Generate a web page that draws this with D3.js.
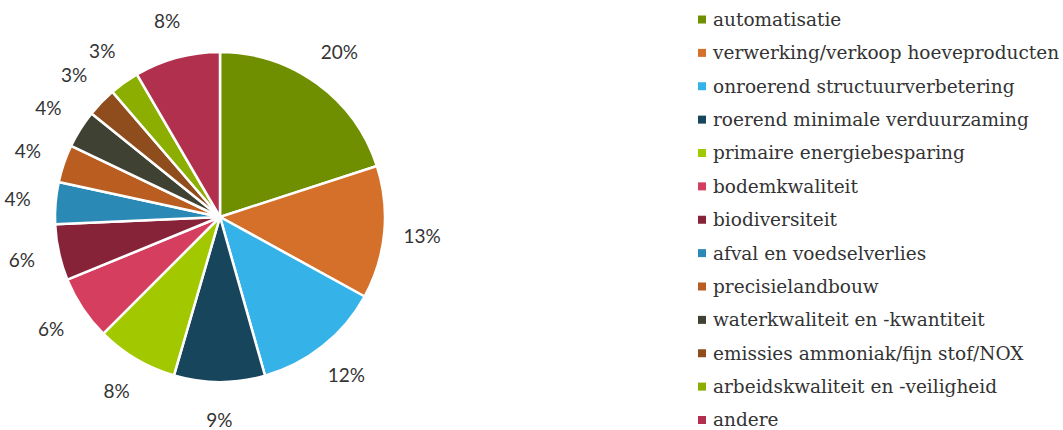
<!DOCTYPE html>
<html><head><meta charset="utf-8">
<script src="https://cdn.jsdelivr.net/npm/d3@7"></script>
<style>body{margin:0;background:#fff}svg{display:block}</style>
</head><body>
<svg id="c" width="1063" height="430"></svg>
<script>
const categories = ["automatisatie","verwerking/verkoop hoeveproducten","onroerend structuurverbetering","roerend minimale verduurzaming","primaire energiebesparing","bodemkwaliteit","biodiversiteit","afval en voedselverlies","precisielandbouw","waterkwaliteit en -kwantiteit","emissies ammoniak/fijn stof/NOX","arbeidskwaliteit en -veiligheid","andere"];
const values = [20, 13, 12.6, 8.9, 8, 6.3, 5.5, 4.1, 3.7, 3.7, 2.9, 2.9, 8.4];
const pctLabels = ["20%","13%","12%","9%","8%","6%","6%","4%","4%","4%","3%","3%","8%"];
const colors = ["#708f00","#d4702a","#35b2e8","#17455c","#a2c800","#d53e5e","#862338","#2a8ab5","#b95e20","#3f4132","#8f4c1c","#8bae00","#b0304d"];

const svg = d3.select("#c");
const cx = 220, cy = 217, r = 165;
const color = d3.scaleOrdinal().domain(categories).range(colors);
const pie = d3.pie().sort(null).value(d => d.v);
const data = pie(categories.map((c,i) => ({c, v: values[i], l: pctLabels[i]})));
const arc = d3.arc().innerRadius(0).outerRadius(r);
const labelArc = d3.arc().innerRadius(203).outerRadius(203);
const g = svg.append("g").attr("transform", `translate(${cx},${cy})`);
g.selectAll("path").data(data).join("path")
  .attr("d", arc).attr("fill", d => color(d.data.c))
  .attr("stroke", "#fff").attr("stroke-width", 2.5).attr("stroke-linejoin","round");
g.selectAll("text").data(data).join("text")
  .attr("transform", d => `translate(${labelArc.centroid(d)})`)
  .attr("text-anchor","middle").attr("dy","0.35em")
  .style("font-family","Lato, 'Open Sans', sans-serif").style("font-size","19px").attr("fill","#333")
  .text(d => d.data.l);

const leg = svg.append("g").attr("transform","translate(698,0)");
const ly = d3.scalePoint().domain(categories).range([19.5, 420]);
const items = leg.selectAll("g").data(categories).join("g")
  .attr("transform", d => `translate(0,${ly(d)})`);
items.append("rect").attr("x",0).attr("y",-4).attr("width",8).attr("height",8).attr("fill", d => color(d));
items.append("text").attr("x",15).attr("dy","0.35em")
  .style("font-family","'DejaVu Serif', serif").style("font-size","18.5px").attr("fill","#333")
  .text(d => d);
</script>
</body></html>
